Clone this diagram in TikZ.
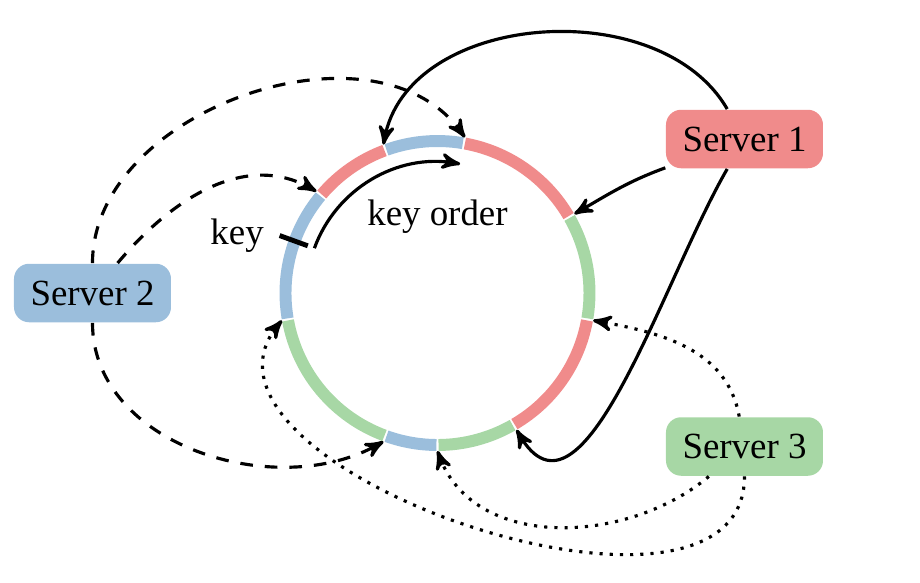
\documentclass[tikz,border=0pt]{standalone}
\usepackage{fontspec}
\setmainfont{Liberation Serif}
\usepackage{tikz}
\usetikzlibrary{arrows,positioning}

\definecolor{srvred}{RGB}{240,139,139}
\definecolor{srvblue}{RGB}{155,190,220}
\definecolor{srvgreen}{RGB}{167,215,165}

\tikzset{
  server/.style={rounded corners=4.3pt, minimum width=1.57cm, minimum height=0.585cm, inner sep=0pt},
  ringpart/.style={line width=3.4pt},
  link/.style={->,line width=0.9pt},
  dashlink/.style={->,line width=0.9pt,dash pattern=on 3.6pt off 3.4pt},
  dotlink/.style={->,line width=0.9pt,dotted}
}

\begin{document}
\begin{tikzpicture}[>=stealth', font=\fontsize{10.5}{12.6}\selectfont]
\useasboundingbox (-4.375,-2.89) rectangle (4.825,2.93);
% ring of key ranges
\foreach \a/\b/\c in {30/80/srvred, 80/110/srvblue, 110/140/srvred, 140/190/srvblue,
    190/250/srvgreen, 250/270/srvblue, 270/300/srvgreen, 300/350/srvred, 350/390/srvgreen}
  \draw[ringpart,\c] (\a+0.4:1.52) arc[start angle=\a+0.4, end angle=\b-0.4, radius=1.52];
% points on the ring
\foreach \p in {30,80,110,140,190,250,270,300,350}
  \coordinate (p\p) at (\p:1.58);

\node[server,fill=srvred] (srvA) at (3.07,1.54) {Server 1};
\node[server,fill=srvblue] (srvB) at (-3.45,0) {Server 2};
\node[server,fill=srvgreen] (srvC) at (3.07,-1.535) {Server 3};

% key and key order
\coordinate (tickin) at (160:1.38);
\coordinate (tickout) at (160:1.68);
\draw[line width=1.4pt] (tickin) -- (tickout);
\node[left=1pt] (keylbl) at (tickout) {key};
\draw[link] (160:1.31) arc[start angle=160, end angle=80, radius=1.31];
\node (ordlbl) at (0,0.76) {key order};

% server 1
\draw[link] (srvA) to[out=200,in=30] (p30);
\draw[link] (srvA) to[out=120,in=80] (p110);
\draw[link] (srvA) to[out=-120,in=-60] (p300);
% server 2
\draw[dashlink] (srvB) to[out=90,in=125] (p80);
\draw[dashlink] (srvB) to[out=50,in=150] (p140);
\draw[dashlink] (srvB) to[out=-90,in=-150] (p250);
% server 3
\draw[dotlink] (srvC) to[out=100,in=-10] (p350);
\draw[dotlink] (srvC) to[out=-140,in=-70] (p270);
\draw[dotlink] (srvC) to[out=-90,in=-130] (p190);
\end{tikzpicture}
\end{document}
